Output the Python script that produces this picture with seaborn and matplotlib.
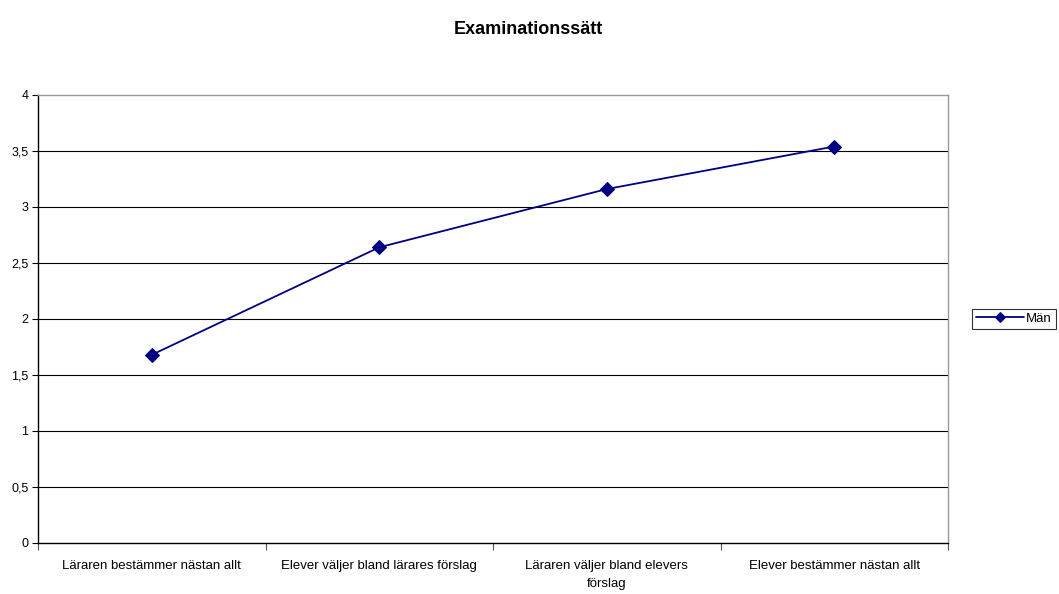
import matplotlib
matplotlib.use("Agg")
import matplotlib.pyplot as plt
import seaborn as sns
import pandas as pd
import numpy as np

# data
categories = [
    "Läraren bestämmer nästan allt",
    "Elever väljer bland lärares förslag",
    "Läraren väljer bland elevers\nförslag",
    "Elever bestämmer nästan allt",
]
values = [1.68, 2.64, 3.16, 3.54]
series_name = "Män"
y_ticks = [0, 0.5, 1, 1.5, 2, 2.5, 3, 3.5, 4]
y_tick_labels = ["0", "0,5", "1", "1,5", "2", "2,5", "3", "3,5", "4"]

sns.set_theme(style="white")
plt.rcParams["font.family"] = ["Liberation Sans", "DejaVu Sans"]
plt.rcParams["text.color"] = "black"
plt.rcParams["xtick.color"] = "black"
plt.rcParams["ytick.color"] = "black"

df = pd.DataFrame({"kategori": categories, "värde": values, "serie": series_name})

fig = plt.figure(figsize=(10.59, 5.94), dpi=100)
ax = fig.add_axes([0.0359, 0.0859, 0.8593, 0.7542])

sns.lineplot(data=df, x="kategori", y="värde", hue="serie", palette=["#000080"],
             marker="D", markersize=7, markeredgecolor="#000080", linewidth=1.3,
             sort=False, ax=ax, legend=True)

ax.set_xlim(-0.5, len(categories) - 0.5)
ax.set_ylim(0, 4)
ax.set_yticks(y_ticks)
ax.set_yticklabels(y_tick_labels, fontsize=9)
ax.set_xticks(range(len(categories)))
ax.set_xticklabels(categories, fontsize=9.5, linespacing=1.7)
ax.set_xticks(np.arange(-0.5, len(categories), 1.0), minor=True)
ax.tick_params(axis="x", which="major", length=0, pad=12)
ax.tick_params(axis="x", which="minor", length=5, width=0.8, color="#555555", direction="out", bottom=True)
ax.tick_params(axis="y", length=4, width=0.8, color="black", direction="out", left=True, pad=3)
ax.set_xlabel("")
ax.set_ylabel("")

for y in y_ticks[1:-1]:
    ax.axhline(y, color="black", linewidth=0.8, zorder=0)

ax.spines["left"].set_color("black")
ax.spines["bottom"].set_color("black")
ax.spines["top"].set_color("#999999")
ax.spines["right"].set_color("#999999")
for s in ax.spines.values():
    s.set_linewidth(1.0)

ax.legend_.remove()
handles, labels = ax.get_legend_handles_labels()
leg = fig.legend(handles, labels, loc="center left", bbox_to_anchor=(0.918, 0.463),
                 borderaxespad=0, frameon=True, fancybox=False, fontsize=9.5,
                 handlelength=3.6, borderpad=0.3, handletextpad=0.2, markerscale=0.8)
leg.get_frame().set_edgecolor("black")
leg.get_frame().set_linewidth(0.8)

fig.suptitle("Examinationssätt", x=0.499, y=0.965, fontsize=13, fontweight="bold")

fig.savefig("out.png", dpi=100)
